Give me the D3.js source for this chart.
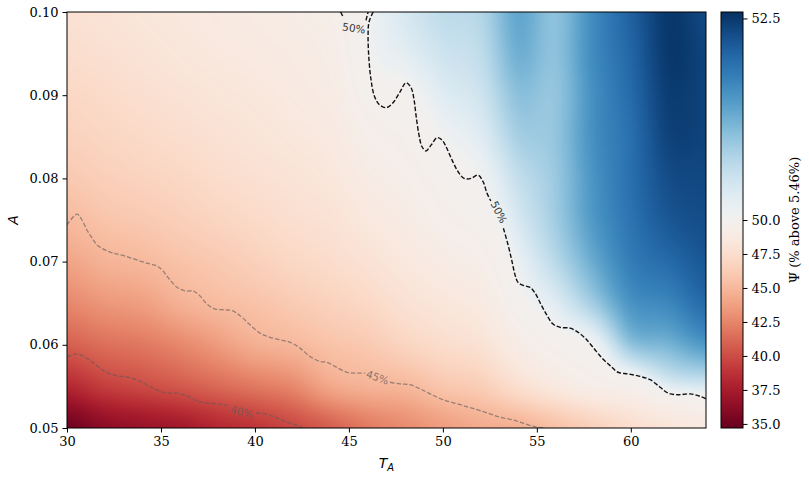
<!DOCTYPE html>
<html><head><meta charset="utf-8">
<script src="https://cdn.jsdelivr.net/npm/d3@7"></script>
<style>body{margin:0;background:#fff}svg{display:block}</style>
</head><body>
<svg id="chart" width="809" height="477"></svg>
<script>
// ---------------- data ----------------
const tGrid = [30,32,34,36,38,40,42,44,46,48,50,52,54,56,58,60,62,64];
const aGrid = [0.100,0.095,0.090,0.085,0.080,0.075,0.070,0.065,0.060,0.055,0.050];
// Psi values, one array per T column, from A=0.100 down to A=0.050
const psiCols = [
 [47.8,47.5,47.0,46.6,46.0,45.1,44.0,42.6,40.8,38.2,35.0],
 [48.0,47.7,47.3,46.9,46.4,45.7,44.7,43.3,41.5,39.3,36.2],
 [48.3,48.0,47.6,47.2,46.7,46.0,45.05,43.7,41.9,39.9,36.8],
 [48.5,48.3,47.9,47.5,47.0,46.4,45.6,44.6,42.6,40.5,37.3],
 [48.7,48.5,48.2,47.8,47.4,46.8,46.0,45.2,43.5,41.2,38.2],
 [48.9,48.7,48.4,48.1,47.7,47.2,46.5,45.6,44.5,41.9,38.9],
 [49.1,48.9,48.7,48.4,48.0,47.6,47.0,46.1,44.95,42.6,39.8],
 [49.4,49.2,49.0,48.7,48.35,47.9,47.4,46.6,45.6,44.1,40.8],
 [50.05,50.0,49.8,49.4,49.0,48.5,47.9,47.1,46.0,44.7,42.0],
 [50.4,50.25,49.95,49.7,49.4,49.0,48.5,47.8,46.8,44.95,42.8],
 [50.65,50.5,50.3,50.05,49.8,49.5,49.0,48.3,47.4,45.8,43.6],
 [50.75,50.65,50.5,50.3,50.05,49.8,49.4,48.8,47.9,46.3,44.3],
 [51.35,51.25,51.05,50.85,50.6,50.4,50.15,49.85,49.1,47.6,44.6],
 [51.05,51.05,51.0,51.0,50.95,50.9,50.7,50.3,49.75,48.6,45.5],
 [51.65,51.65,51.6,51.6,51.55,51.5,51.3,50.9,50.05,49.3,46.5],
 [52.1,52.05,52.0,51.95,51.95,51.9,51.8,51.55,51.0,49.6,47.5],
 [52.5,52.5,52.45,52.4,52.3,52.2,52.0,51.7,51.2,50.25,48.2],
 [52.35,52.4,52.4,52.4,52.35,52.3,52.2,52.0,51.5,50.4,48.7]
];
// contour lines [T, A], split where inline labels sit
const contour50 = [
 [[44.56,0.1000],[44.69,0.0994]],
 [[45.91,0.0990],[46.02,0.1000]],
 [[46.29,0.1000],[46.07,0.0988],[46.02,0.0972],[46.07,0.0942],[46.18,0.0918],[46.34,0.0900],[46.6,0.0889],[46.98,0.0885],[47.35,0.0891],[47.72,0.0904],[48.04,0.0915],[48.31,0.0909],[48.47,0.0894],[48.57,0.0876],[48.73,0.0852],[48.89,0.0838],[49.1,0.0833],[49.37,0.0840],[49.69,0.0849],[49.96,0.0846],[50.17,0.0838],[50.49,0.0822],[50.81,0.0808],[51.13,0.0800],[51.5,0.0800],[51.87,0.0804],[52.14,0.0796],[52.35,0.0782],[52.55,0.0773]],
 [[53.22,0.0740],[53.47,0.0720],[53.68,0.0700],[53.84,0.0684],[54.0,0.0675],[54.32,0.0671],[54.64,0.0669],[54.91,0.0662],[55.23,0.0648],[55.55,0.0635],[55.86,0.0625],[56.24,0.0621],[56.77,0.0620],[57.2,0.0615],[57.57,0.0608],[57.99,0.0597],[58.47,0.0584],[58.9,0.0575],[59.32,0.0567],[59.85,0.0565],[60.49,0.0562],[61.03,0.0558],[61.56,0.0549],[61.98,0.0542],[62.52,0.0540],[63.16,0.0541],[63.69,0.0538],[64.0,0.0535]]
];
const contour45 = [
 [[30,0.0744],[30.53,0.0757],[30.8,0.0750],[31.06,0.0738],[31.33,0.07284],[31.6,0.0720],[32.02,0.0714],[32.45,0.07103],[33.09,0.07067],[33.89,0.07007],[34.42,0.06971],[34.79,0.06947],[35.11,0.06887],[35.48,0.06779],[35.91,0.06683],[36.33,0.06647],[36.71,0.06647],[37.08,0.06587],[37.45,0.0649],[37.88,0.0643],[38.41,0.0642],[38.78,0.0641],[39.21,0.0635],[39.74,0.0624],[40.27,0.0614],[40.8,0.0609],[41.34,0.0606],[41.87,0.0603],[42.4,0.0596],[42.93,0.0586],[43.46,0.0580],[43.84,0.0579],[44.26,0.0574],[44.9,0.0567],[45.43,0.0566],[45.86,0.0566]],
 [[47.19,0.0555],[47.72,0.0553],[48.25,0.0552],[48.79,0.0547],[49.32,0.0541],[50.01,0.0534],[50.92,0.0528],[51.82,0.0522],[52.51,0.0517],[53.04,0.0513],[53.68,0.0510],[54.37,0.0505],[55.01,0.0501],[55.44,0.0500]]
];
const contour40 = [
 [[30,0.05853],[30.43,0.05889],[30.85,0.05865],[31.33,0.05793],[31.76,0.0572],[32.18,0.0566],[32.71,0.05625],[33.19,0.05613],[33.73,0.05577],[34.26,0.05517],[34.79,0.05457],[35.32,0.0542],[35.85,0.0542],[36.39,0.05385],[36.92,0.05325],[37.45,0.0530],[37.98,0.0529],[38.57,0.0527]],
 [[40.06,0.0518],[40.54,0.0517],[41.07,0.0513],[41.6,0.0508],[42.13,0.0504],[42.56,0.0500]]
];
const contourLabels = [
 {text:"50%", T:45.27, A:0.09808, angle:8,  level:50},
 {text:"50%", T:52.99, A:0.07596, angle:63, level:50},
 {text:"45%", T:46.52, A:0.05610, angle:20, level:45},
 {text:"40%", T:39.3,  A:0.05195, angle:15, level:40}
];
const xTicks = [30,35,40,45,50,55,60];
const yTicks = [0.05,0.06,0.07,0.08,0.09,0.10];
const cbTicks = [35,37.5,40,42.5,45,47.5,50,52.5];
const normLimits = [34.7, 50, 52.58];
const xLabel = "T", xSub = "A", yLabel = "A", cbLabel = "\u03A8 (% above 5.46%)";

// ---------------- drawing ----------------
const svg = d3.select("#chart");
const x = d3.scaleLinear().domain([30,64]).range([67,706]);
const y = d3.scaleLinear().domain([0.05,0.10]).range([428,12]);
const norm = d3.scaleLinear().domain(normLimits).range([0,0.5,1]).clamp(true);
const lut = d3.range(1024).map(i => d3.rgb(d3.interpolateRdBu(i/1023)));
const colorRGB = v => lut[Math.round(norm(v)*1023)];

const nT = tGrid.length, nA = aGrid.length;
const tIdx = d3.scaleLinear().domain([tGrid[0], tGrid[nT-1]]).range([0, nT-1]).clamp(true);
const aIdx = d3.scaleLinear().domain([aGrid[0], aGrid[nA-1]]).range([0, nA-1]).clamp(true);
const g = (i, j) => psiCols[Math.max(0, Math.min(nT-1, i))][Math.max(0, Math.min(nA-1, j))];
// Catmull-Rom weights (smooth interpolation between grid nodes)
function crw(t){
  const t2 = t*t, t3 = t2*t;
  return [(-t3 + 2*t2 - t)/2, (3*t3 - 5*t2 + 2)/2, (-3*t3 + 4*t2 + t)/2, (t3 - t2)/2];
}
function field(T, A){
  const fi = tIdx(T), fj = aIdx(A);
  const i0 = Math.min(Math.floor(fi), nT-2), j0 = Math.min(Math.floor(fj), nA-2);
  const wu = crw(fi - i0), wv = crw(fj - j0);
  let s = 0;
  for (let a = 0; a < 4; a++) for (let b = 0; b < 4; b++)
    s += wu[a]*wv[b]*g(i0 - 1 + a, j0 - 1 + b);
  return s;
}

const [px0, px1] = x.range(), [py1, py0] = y.range();
const pw = px1 - px0, ph = py1 - py0;
const cv = document.createElement("canvas");
cv.width = pw; cv.height = ph;
const ctx = cv.getContext("2d");
const img = ctx.createImageData(pw, ph);
for (let j = 0; j < ph; j++) {
  const A = y.invert(py0 + j + 0.5);
  for (let i = 0; i < pw; i++) {
    const T = x.invert(px0 + i + 0.5);
    const c = colorRGB(field(T, A));
    const k = (j*pw + i)*4;
    img.data[k] = c.r; img.data[k+1] = c.g; img.data[k+2] = c.b; img.data[k+3] = 255;
  }
}
ctx.putImageData(img, 0, 0);
svg.append("image").attr("x", px0).attr("y", py0).attr("width", pw).attr("height", ph)
  .attr("preserveAspectRatio","none").attr("href", cv.toDataURL());

svg.append("clipPath").attr("id","clip").append("rect")
  .attr("x",px0).attr("y",py0).attr("width",pw).attr("height",ph);

const line = d3.line().x(d => x(d[0])).y(d => y(d[1])).curve(d3.curveCatmullRom.alpha(0.5));
const cg = svg.append("g").attr("clip-path","url(#clip)");
cg.selectAll(".c40").data(contour40).join("path").attr("d", line)
  .attr("fill","none").attr("stroke","rgba(90,90,90,0.6)").attr("stroke-width",1.3).attr("stroke-dasharray","4.5,2");
cg.selectAll(".c45").data(contour45).join("path").attr("d", line)
  .attr("fill","none").attr("stroke","rgba(90,90,90,0.6)").attr("stroke-width",1.3).attr("stroke-dasharray","4.5,2");
cg.selectAll(".c50").data(contour50).join("path").attr("d", line)
  .attr("fill","none").attr("stroke","#111").attr("stroke-width",1.4).attr("stroke-dasharray","4.5,2");

svg.selectAll(".clab").data(contourLabels).join("text")
  .attr("transform", d => `translate(${x(d.T)},${y(d.A)}) rotate(${d.angle})`)
  .attr("text-anchor","middle").attr("dominant-baseline","central")
  .attr("font-family","DejaVu Sans").attr("font-size",10.5)
  .attr("fill", d => d.level === 50 ? "#333" : "rgba(100,90,90,0.75)")
  .text(d => d.text);

// frame
svg.append("rect").attr("x",px0).attr("y",py0).attr("width",pw).attr("height",ph)
  .attr("fill","none").attr("stroke","#000").attr("stroke-width",1);

const fontTick = sel => sel.selectAll("text").attr("font-family","DejaVu Serif").attr("font-size",13).attr("fill","#000");
const gx = svg.append("g").attr("transform",`translate(0,${py1})`)
  .call(d3.axisBottom(x).tickValues(xTicks).tickFormat(d3.format("d")).tickSize(4.5).tickPadding(4));
gx.select(".domain").remove(); fontTick(gx);
const gy = svg.append("g").attr("transform",`translate(${px0},0)`)
  .call(d3.axisLeft(y).tickValues(yTicks).tickFormat(d3.format(".2f")).tickSize(4.5).tickPadding(4));
gy.select(".domain").remove(); fontTick(gy);

// axis labels
const xl = svg.append("text").attr("x",(px0+px1)/2).attr("y",468).attr("text-anchor","middle")
  .attr("font-family","DejaVu Sans").attr("font-style","italic").attr("font-size",14);
xl.append("tspan").text(xLabel);
xl.append("tspan").attr("font-size",10).attr("dy",3).text(xSub);
svg.append("text").attr("transform",`translate(18,${(py0+py1)/2}) rotate(-90)`).attr("text-anchor","middle")
  .attr("font-family","DejaVu Sans").attr("font-style","italic").attr("font-size",14).text(yLabel);

// colorbar
const cbX0 = 721, cbW = 22;
const cbY = d3.scaleLinear().domain(normLimits).range([py1, (py0+py1)/2, py0]);
const cb = document.createElement("canvas");
cb.width = 1; cb.height = ph;
const cctx = cb.getContext("2d");
const cimg = cctx.createImageData(1, ph);
for (let j = 0; j < ph; j++) {
  const c = colorRGB(cbY.invert(py0 + j + 0.5));
  cimg.data[j*4] = c.r; cimg.data[j*4+1] = c.g; cimg.data[j*4+2] = c.b; cimg.data[j*4+3] = 255;
}
cctx.putImageData(cimg, 0, 0);
svg.append("image").attr("x",cbX0).attr("y",py0).attr("width",cbW).attr("height",ph)
  .attr("preserveAspectRatio","none").attr("href", cb.toDataURL());
svg.append("rect").attr("x",cbX0).attr("y",py0).attr("width",cbW).attr("height",ph)
  .attr("fill","none").attr("stroke","#000").attr("stroke-width",1);
const gc = svg.append("g").attr("transform",`translate(${cbX0+cbW},0)`)
  .call(d3.axisRight(cbY).tickValues(cbTicks).tickFormat(d3.format(".1f")).tickSize(4.5).tickPadding(4));
gc.select(".domain").remove(); fontTick(gc);
svg.append("text").attr("transform",`translate(799,${(py0+py1)/2}) rotate(-90)`).attr("text-anchor","middle")
  .attr("font-family","DejaVu Serif").attr("font-size",13).text(cbLabel);
</script>
</body></html>
